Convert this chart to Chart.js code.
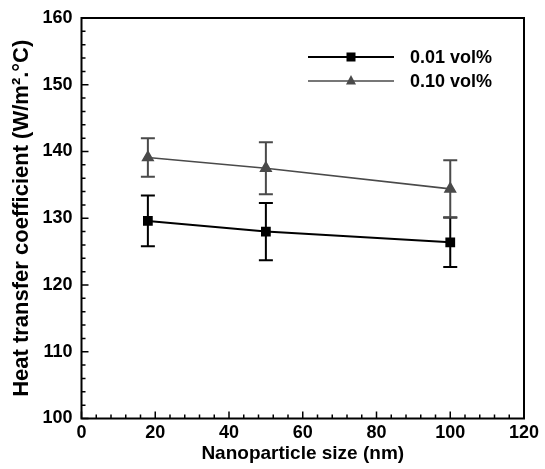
<!DOCTYPE html>
<html>
<head>
<meta charset="utf-8">
<script src="https://cdn.jsdelivr.net/npm/chart.js@4.4.1/dist/chart.umd.min.js"></script>
<style>
  html, body { margin: 0; padding: 0; background: #fff; }
  #wrap { width: 545px; height: 469px; }
</style>
</head>
<body>
<div id="wrap"><canvas id="grafico"></canvas></div>
<script>
// valores
const tamanhos = [18, 50, 100];
const serie001 = [129.6, 128.0, 126.4];
const erro001 = [3.8, 4.3, 3.7];
const serie010 = [139.1, 137.5, 134.4];
const erro010 = [2.9, 3.9, 4.3];
const nomes = ['0.01 vol%', '0.10 vol%'];
const ticksX = [0, 20, 40, 60, 80, 100, 120];
const ticksY = [100, 110, 120, 130, 140, 150, 160];

const familia = '"Liberation Sans", Arial, sans-serif';
const cores = ['#000000', '#4a4a4a'];

// barras de erro + ticks internos + moldura + legenda
const extras = {
  id: 'extras',
  afterDatasetsDraw(chart) {
    const c = chart.ctx;
    const x = chart.scales.x, y = chart.scales.y;
    const a = chart.chartArea;
    const erros = [erro001, erro010];
    c.save();
    chart.data.datasets.forEach((ds, i) => {
      c.strokeStyle = cores[i];
      c.lineWidth = 2;
      ds.data.forEach((p, j) => {
        const px = x.getPixelForValue(p.x);
        const y1 = y.getPixelForValue(p.y + erros[i][j]);
        const y2 = y.getPixelForValue(p.y - erros[i][j]);
        c.beginPath();
        c.moveTo(px, y1); c.lineTo(px, y2);
        c.moveTo(px - 7, y1); c.lineTo(px + 7, y1);
        c.moveTo(px - 7, y2); c.lineTo(px + 7, y2);
        c.stroke();
      });
    });

    // ticks para dentro
    c.strokeStyle = '#000';
    c.lineWidth = 1.5;
    c.beginPath();
    for (let v = 0; v <= 120; v += 4) {
      const px = x.getPixelForValue(v);
      const len = v % 20 === 0 ? 7 : 4;
      c.moveTo(px, a.bottom); c.lineTo(px, a.bottom - len);
    }
    for (let v = 100; v <= 160; v += 2) {
      const py = y.getPixelForValue(v);
      const len = v % 10 === 0 ? 7 : 4;
      c.moveTo(a.left, py); c.lineTo(a.left + len, py);
    }
    c.stroke();

    c.lineWidth = 2;
    c.strokeRect(a.left, a.top, a.right - a.left, a.bottom - a.top);

    // legenda
    const linhasY = [57, 81];
    c.font = 'bold 18px ' + familia;
    c.textBaseline = 'middle';
    nomes.forEach((n, i) => {
      c.strokeStyle = cores[i];
      c.fillStyle = cores[i];
      c.lineWidth = i === 0 ? 2 : 1.6;
      c.beginPath();
      c.moveTo(308, linhasY[i]); c.lineTo(394, linhasY[i]);
      c.stroke();
      if (i === 0) {
        c.fillRect(351 - 4.5, linhasY[i] - 4.5, 9, 9);
      } else {
        c.beginPath();
        c.moveTo(351, linhasY[i] - 6);
        c.lineTo(356, linhasY[i] + 3.5);
        c.lineTo(346, linhasY[i] + 3.5);
        c.closePath();
        c.fill();
      }
      c.fillStyle = '#000';
      c.fillText(n, 410, linhasY[i] + 1);
    });
    c.restore();
  }
};

new Chart(document.getElementById('grafico'), {
  type: 'line',
  data: {
    datasets: [{
      label: nomes[0],
      data: tamanhos.map((t, i) => ({ x: t, y: serie001[i] })),
      borderColor: cores[0],
      backgroundColor: cores[0],
      borderWidth: 2,
      pointStyle: 'rect',
      pointRadius: 5.5,
      pointHoverRadius: 5.5
    }, {
      label: nomes[1],
      data: tamanhos.map((t, i) => ({ x: t, y: serie010[i] })),
      borderColor: cores[1],
      backgroundColor: cores[1],
      borderWidth: 1.6,
      pointStyle: 'triangle',
      pointRadius: 6,
      pointHoverRadius: 6
    }]
  },
  plugins: [extras],
  options: {
    responsive: true,
    maintainAspectRatio: false,
    animation: false,
    layout: { padding: { top: 18, right: 21, left: 0, bottom: 0 } },
    plugins: {
      legend: { display: false },
      tooltip: { enabled: false }
    },
    scales: {
      x: {
        type: 'linear',
        min: 0,
        max: 120,
        afterFit: s => { s.height = 50.5; },
        afterBuildTicks: s => { s.ticks = ticksX.map(v => ({ value: v })); },
        grid: { display: false },
        border: { display: false },
        ticks: { color: '#000', font: { family: familia, size: 18, weight: 'bold' }, padding: -4, maxRotation: 0 },
        title: {
          display: true,
          text: 'Nanoparticle size (nm)',
          color: '#000',
          font: { family: familia, size: 19, weight: 'bold' },
          padding: { top: 0, bottom: 4 }
        }
      },
      y: {
        min: 100,
        max: 160,
        afterFit: s => { s.width = 81.5; },
        afterBuildTicks: s => { s.ticks = ticksY.map(v => ({ value: v })); },
        grid: { display: false },
        border: { display: false },
        ticks: { color: '#000', font: { family: familia, size: 18, weight: 'bold' }, padding: 1 },
        title: {
          display: true,
          text: 'Heat transfer coefficient (W/m\u00B2.\u00B0C)',
          color: '#000',
          font: { family: familia, size: 22, weight: 'bold' },
          padding: { top: 9, bottom: 0 }
        }
      }
    }
  }
});
</script>
</body>
</html>
